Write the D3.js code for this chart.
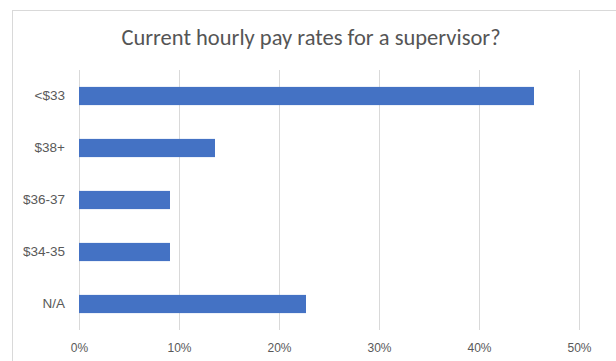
<!DOCTYPE html>
<html>
<head>
<meta charset="utf-8">
<script src="https://cdn.jsdelivr.net/npm/d3@7"></script>
<style>
  html, body { margin: 0; padding: 0; background: #fff; }
  svg { display: block; font-family: Carlito, "Open Sans", "Liberation Sans", sans-serif; }
</style>
</head>
<body>
<svg id="chart"></svg>
<script>
const categories = ['<$33', '$38+', '$36-37', '$34-35', 'N/A'];
const values = [0.455, 0.136, 0.091, 0.091, 0.227];
const ticks = [0, 0.1, 0.2, 0.3, 0.4, 0.5];
const title = 'Current hourly pay rates for a supervisor?';

const W = 616, H = 361;
const margin = { top: 70, right: 36, bottom: 31, left: 79 };
const width = W - margin.left - margin.right;
const height = H - margin.top - margin.bottom;

const svg = d3.select('#chart').attr('width', W).attr('height', H);

// chart frame
svg.append('rect')
  .attr('x', 12.5).attr('y', 10.5)
  .attr('width', 620).attr('height', 360)
  .attr('fill', 'none').attr('stroke', '#d9d9d9');

svg.append('text')
  .attr('x', 311).attr('y', 45)
  .attr('text-anchor', 'middle')
  .attr('font-size', 22.5)
  .attr('fill', '#555')
  .text(title);

const g = svg.append('g').attr('transform', `translate(${margin.left},${margin.top})`);

const x = d3.scaleLinear().domain([0, 0.5]).range([0, 500]);
const y = d3.scaleBand().domain(categories).range([0, height]).paddingInner(0.65).paddingOuter(0.325);

// gridlines
g.selectAll('line.grid')
  .data(ticks)
  .enter().append('line')
  .attr('class', 'grid')
  .attr('x1', d => Math.round(x(d)) + 0.5)
  .attr('x2', d => Math.round(x(d)) + 0.5)
  .attr('y1', 0).attr('y2', height)
  .attr('stroke', '#d9d9d9');

// bars
g.selectAll('rect.bar')
  .data(categories)
  .enter().append('rect')
  .attr('class', 'bar')
  .attr('x', 0)
  .attr('y', d => y(d))
  .attr('width', (d, i) => x(values[i]))
  .attr('height', y.bandwidth())
  .attr('fill', '#4472c4');

// x axis labels
const xAxis = g.append('g')
  .attr('transform', `translate(0,${height})`)
  .call(d3.axisBottom(x).tickValues(ticks).tickFormat(d3.format('.0%')).tickSize(0).tickPadding(13));
xAxis.select('.domain').remove();
xAxis.selectAll('text').attr('fill', '#595959').attr('font-size', 12).attr('font-family', null);

// y axis labels
const yAxis = g.append('g')
  .call(d3.axisLeft(y).tickSize(0).tickPadding(14));
yAxis.select('.domain').remove();
yAxis.selectAll('text').attr('fill', '#595959').attr('font-size', 13.5).attr('font-family', null);
</script>
</body>
</html>
